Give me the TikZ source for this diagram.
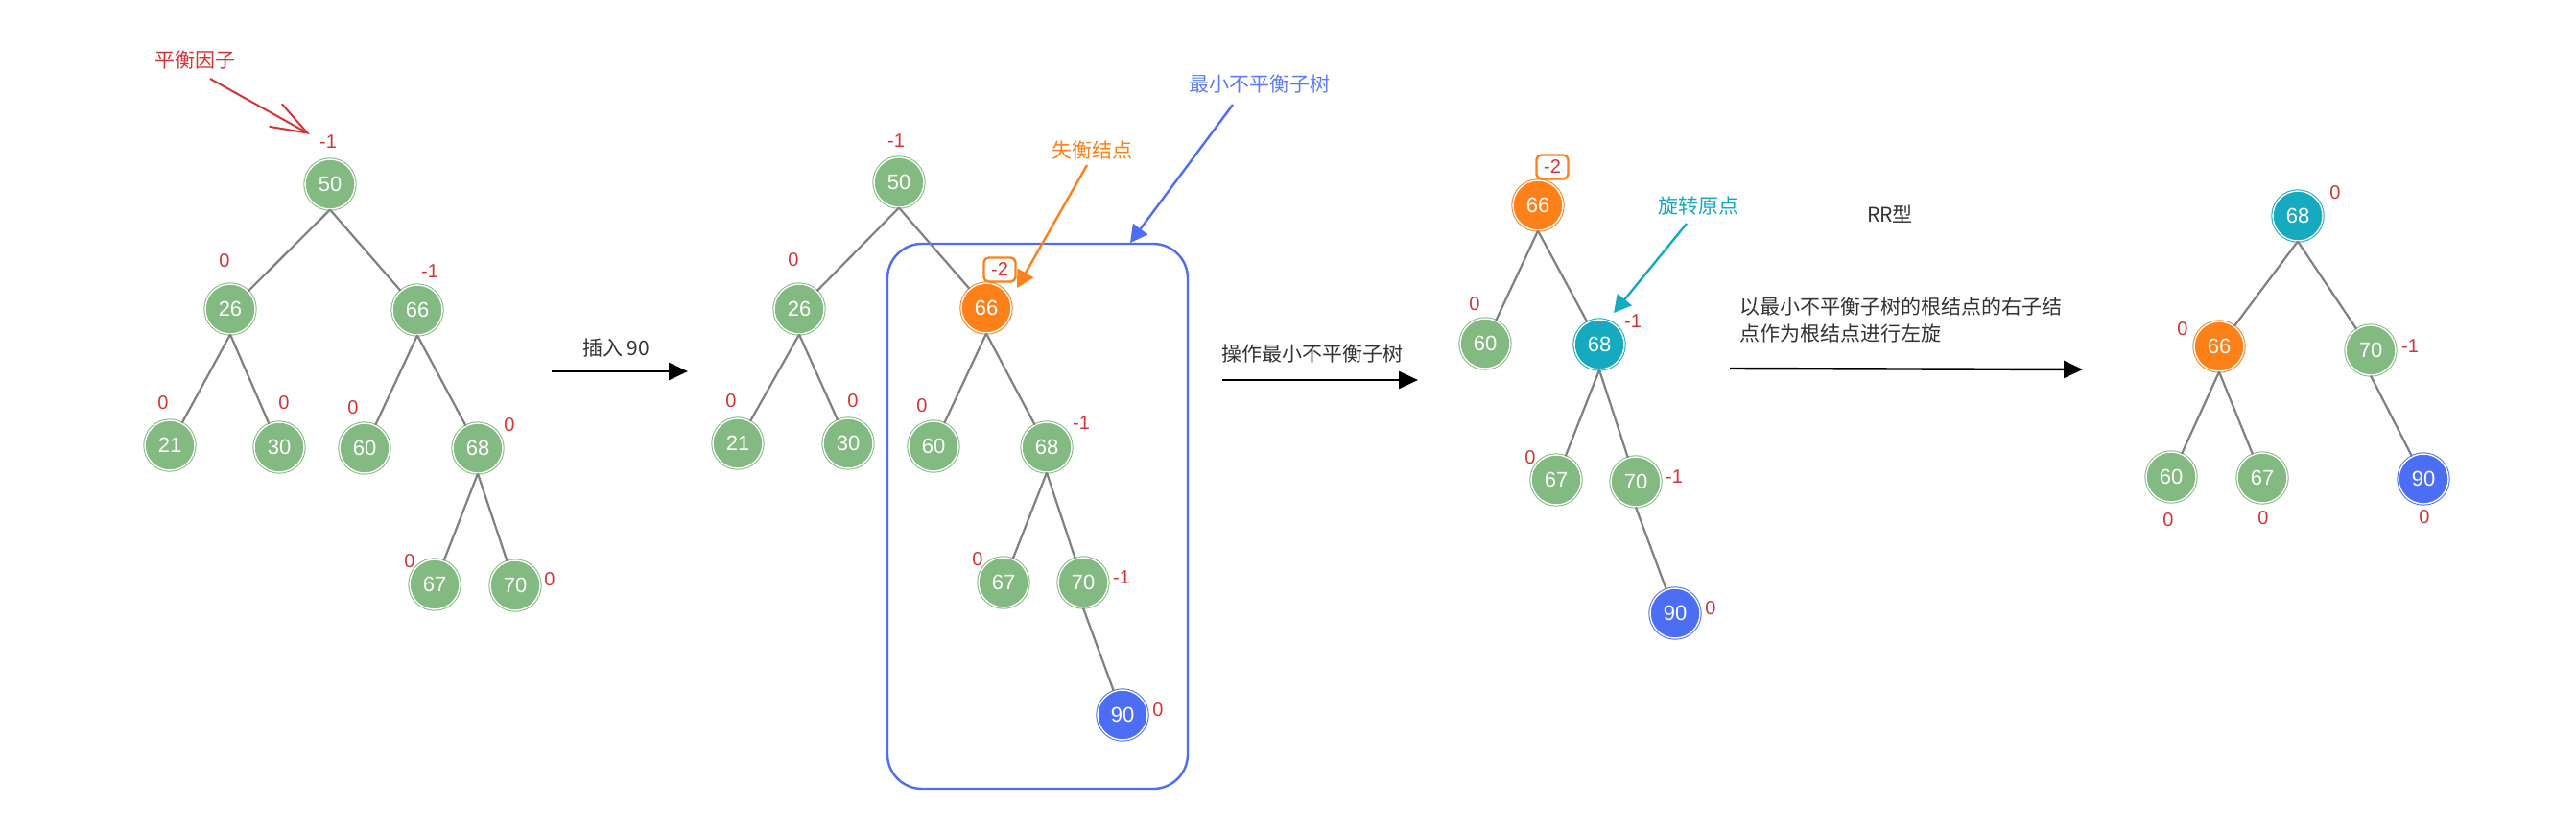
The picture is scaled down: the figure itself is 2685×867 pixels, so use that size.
\documentclass[tikz,border=0pt]{standalone}
\usepackage{fontspec}
\setmainfont{Liberation Sans}
\newfontfamily\cjk{Noto Sans CJK SC}
\usetikzlibrary{arrows.meta}
\definecolor{ngreen}{RGB}{130,186,129}
\definecolor{norange}{RGB}{254,128,24}
\definecolor{nteal}{RGB}{22,170,192}
\definecolor{nblue}{RGB}{76,110,245}
\definecolor{tblue}{RGB}{92,124,245}
\definecolor{lred}{RGB}{212,52,52}
\definecolor{egray}{RGB}{128,128,128}
\definecolor{tgray}{RGB}{51,51,51}
\begin{document}
\begin{tikzpicture}[x=0.5pt,y=-0.5pt,
  tn/.style={circle, minimum size=26pt, inner sep=0pt, text=white,
    font=\fontsize{11}{12}\selectfont, line width=0.5pt, double=white, double distance=0.7pt},
  gn/.style={tn, fill=ngreen, draw=ngreen},
  on/.style={tn, fill=norange, draw=norange},
  cn/.style={tn, fill=nteal, draw=nteal},
  bn/.style={tn, fill=nblue, draw=nblue},
  bf/.style={text=lred, font=\fontsize{10}{11}\selectfont, inner sep=0pt},
  bbox/.style={draw=norange, line width=1.2pt, rounded corners=2.5pt, fill=white, text=lred,
    minimum width=16.5pt, minimum height=12.5pt, inner sep=0pt, font=\fontsize{10}{11}\selectfont},
  edge/.style={draw=egray, line width=1.1pt},
  ctext/.style={font=\cjk\fontsize{10.5}{14}\selectfont, inner sep=0pt},
  arr/.style={-{Triangle[length=10pt,width=9pt]}, line width=1.2pt},
  carr/.style={-{Triangle[length=9pt,width=9.5pt]}, line width=1.2pt},
]
\useasboundingbox (0,0) rectangle (2685,867);

% ---------- tree 1 ----------
\node[gn] (a50) at (344,192) {50};
\node[gn] (a26) at (240,322) {26};
\node[gn] (a66) at (435,323) {66};
\node[gn] (a21) at (177,464) {21};
\node[gn] (a30) at (291,466) {30};
\node[gn] (a60) at (380,467) {60};
\node[gn] (a68) at (498,467) {68};
\node[gn] (a67) at (453,609) {67};
\node[gn] (a70) at (537,610) {70};
\node[bf] (la50) at (342,148) {-1};
\node[bf] (la26) at (234,272) {0};
\node[bf] (la66) at (448,283) {-1};
\node[bf] (la21) at (170,420) {0};
\node[bf] (la30) at (296,420) {0};
\node[bf] (la60) at (368,425) {0};
\node[bf] (la68) at (531,443) {0};
\node[bf] (la67) at (427,585) {0};
\node[bf] (la70) at (573,604) {0};
\foreach \p/\c in {a50/a26,a50/a66,a26/a21,a26/a30,a66/a60,a66/a68,a68/a67,a68/a70}
  \draw[edge] (\p.south) -- (\c);

\node[ctext, text=lred] (tbf) at (203,63) {平衡因子};
\coordinate (r1) at (219,82);
\coordinate (r2) at (323,140);
\draw[lred, line width=1pt, -{Straight Barb[length=19pt,width=13.5pt,line width=1pt]}] (r1) -- (r2);

% arrow 1
\node[ctext, text=tgray] (tins) at (642,363) {插入 90};
\coordinate (k1s) at (575,387);
\coordinate (k1e) at (717,387);
\draw[arr] (k1s) -- (k1e);

% ---------- tree 2 ----------
\node[draw=nblue, line width=1.2pt, rounded corners=18pt, minimum width=156.5pt,
  minimum height=284pt, inner sep=0pt] (box) at (1081.5,538) {};
\node[gn] (b50) at (937,190) {50};
\node[gn] (b26) at (833,322) {26};
\node[on] (b66) at (1028,321) {66};
\node[gn] (b21) at (769,462) {21};
\node[gn] (b30) at (884,462) {30};
\node[gn] (b60) at (973,465) {60};
\node[gn] (b68) at (1091,466) {68};
\node[gn] (b67) at (1046,607) {67};
\node[gn] (b70) at (1129,607) {70};
\node[bn] (b90) at (1170,745) {90};
\node[bf] (lb50) at (934,147) {-1};
\node[bf] (lb26) at (827,271) {0};
\node[bbox] (lb66) at (1042,281) {-2};
\node[bf] (lb21) at (762,418) {0};
\node[bf] (lb30) at (889,418) {0};
\node[bf] (lb60) at (961,423) {0};
\node[bf] (lb68) at (1127,441) {-1};
\node[bf] (lb67) at (1019,583) {0};
\node[bf] (lb70) at (1169,602) {-1};
\node[bf] (lb90) at (1207,740) {0};
\foreach \p/\c in {b50/b26,b50/b66,b26/b21,b26/b30,b66/b60,b66/b68,b68/b67,b68/b70,b70/b90}
  \draw[edge] (\p.south) -- (\c);

\node[ctext, text=norange] (tsh) at (1138,157) {失衡结点};
\coordinate (o1) at (1133,172);
\coordinate (o2) at (1060,300);
\draw[carr, norange] (o1) -- (o2);
\node[ctext, text=tblue] (tmin) at (1313,88) {最小不平衡子树};
\coordinate (u1) at (1285,109);
\coordinate (u2) at (1178,253);
\draw[carr, nblue] (u1) -- (u2);

% arrow 2
\node[ctext, text=tgray] (top) at (1368,369) {操作最小不平衡子树};
\coordinate (k2s) at (1274,396);
\coordinate (k2e) at (1478,396);
\draw[arr] (k2s) -- (k2e);

% ---------- tree 3 ----------
\node[on] (c66) at (1603,214) {66};
\node[gn] (c60) at (1548,358) {60};
\node[cn] (c68) at (1667,359) {68};
\node[gn] (c67) at (1622,500) {67};
\node[gn] (c70) at (1705,502) {70};
\node[bn] (c90) at (1746,639) {90};
\node[bbox] (lc66) at (1618,174) {-2};
\node[bf] (lc60) at (1537,317) {0};
\node[bf] (lc68) at (1702,335) {-1};
\node[bf] (lc67) at (1595,477) {0};
\node[bf] (lc70) at (1745,497) {-1};
\node[bf] (lc90) at (1783,634) {0};
\foreach \p/\c in {c66/c60,c66/c68,c68/c67,c68/c70,c70/c90}
  \draw[edge] (\p.south) -- (\c);

\node[ctext, text=nteal] (trot) at (1770,215) {旋转原点};
\coordinate (q1) at (1758,233);
\coordinate (q2) at (1682,326);
\draw[carr, nteal] (q1) -- (q2);

\node[font=\fontsize{10.5}{12}\selectfont\cjk, text=tgray, inner sep=0pt] (trr) at (1970,223) {RR型};
\node[ctext, text=tgray, align=left, anchor=north west] (tdesc) at (1813,309)
  {以最小不平衡子树的根结点的右子结\\点作为根结点进行左旋};
\coordinate (k3s) at (1803,384);
\coordinate (k3e) at (2171,385);
\draw[arr] (k3s) -- (k3e);

% ---------- tree 4 ----------
\node[cn] (d68) at (2395,225) {68};
\node[on] (d66) at (2313,361) {66};
\node[gn] (d70) at (2471,365) {70};
\node[gn] (d60) at (2263,497) {60};
\node[gn] (d67) at (2358,498) {67};
\node[bn] (d90) at (2526,499) {90};
\node[bf] (ld68) at (2434,201) {0};
\node[bf] (ld66) at (2275,343) {0};
\node[bf] (ld70) at (2512,361) {-1};
\node[bf] (ld60) at (2260,542) {0};
\node[bf] (ld67) at (2359,540) {0};
\node[bf] (ld90) at (2527,539) {0};
\foreach \p/\c in {d68/d66,d68/d70,d66/d60,d66/d67,d70/d90}
  \draw[edge] (\p.south) -- (\c);
\end{tikzpicture}
\end{document}
